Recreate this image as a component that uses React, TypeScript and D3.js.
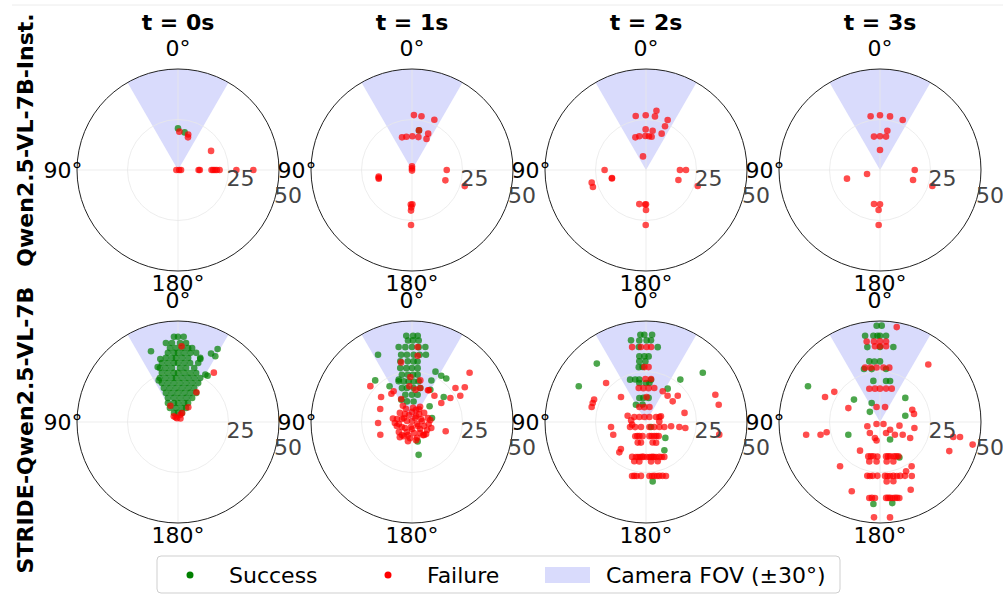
import React from 'react';
import * as d3 from 'd3';

// [angle in degrees (counter-clockwise from forward), distance]
const timeSteps = ['t = 0s', 't = 1s', 't = 2s', 't = 3s'];
const modelNames = ['Qwen2.5-VL-7B-Inst.', 'STRIDE-Qwen2.5-VL-7B'];
const angleTicks = [0, 90, 180];
const gridAngles = [0, 90, 180, 270];
const radialTicks = [25, 50];
const fovHalfAngle = 30;
const maxDistance = 50;

const baseT0Success = [[0, 20.6], [350, 18.9]];
const baseT0Failure = [[358, 19], [344, 18.3], [343, 16.9], [300, 18.9], [90, 0.8], [270, 0.6], [270, 1.5], [270, 10.2], [270, 10.8], [270, 16.6], [270, 17.4], [270, 18.3], [270, 19.2], [270, 20.6], [270, 28.9], [270, 37.3]];

const baseT1Success = [[350, 19.9]];
const baseT1Failure = [[358, 27.2], [350, 27], [336, 27.2], [350, 19.9], [336, 19.7], [335, 17], [17, 16.9], [9.6, 16.7], [359.4, 16.7], [349, 16.6], [0, 1.8], [0, 0.8], [180, 0.3], [101, 16.8], [103, 16.9], [104.7, 17], [270, 17.2], [252.8, 17.3], [253, 27.3], [180.6, 17], [178, 17.1], [179, 18.5], [178.6, 20.1], [179, 27.2]];

const baseT2Success: number[][] = [];
const baseT2Failure = [[350, 29.8], [10.8, 27.2], [0.3, 27.1], [350.5, 26.9], [336.6, 27], [336.5, 23.6], [336.7, 19.6], [0.5, 20.1], [350.4, 19.7], [18, 17], [11.2, 17], [1.1, 16.8], [350.4, 16.7], [355, 16.8], [12.4, 6.9], [90, 20.5], [103.2, 17.3], [104, 17.4], [103.1, 27.6], [107.8, 27.6], [270, 16.8], [270, 19.8], [252.8, 16.8], [252.8, 26.8], [168.9, 17.2], [180, 17], [178.6, 17.1], [180, 19.8], [179.7, 27.2]];

const baseT3Success: number[][] = [];
const baseT3Failure = [[9.9, 27], [0, 27.1], [349.4, 27], [335.6, 27.2], [349.4, 19.8], [10.2, 16.8], [0, 16.7], [349.8, 16.8], [0, 9.9], [270, 17.2], [253.1, 17.1], [253, 27.1], [104.7, 16.9], [107, 6.7], [170, 17.1], [180, 17], [178, 19.8], [178.6, 27.2]];

const strideT0Success = [
  [2.7, 42.2], [0, 42.2], [356.2, 42.3],
  [8.7, 39.6], [4.4, 39.2], [358.5, 39.1], [354.2, 39.3],
  [6.2, 36.8], [1.6, 36.6], [356.9, 36.7], [352.2, 36.9], [349.2, 37.3],
  [8.3, 34.6], [3.3, 34.3], [0, 34.2], [355, 34.3], [350, 34.7], [345.3, 35.4],
  [10.7, 32.3], [5.4, 31.8], [1.8, 31.7], [356.4, 31.8], [351, 32.1], [340.9, 33.6],
  [15.3, 30.3], [9.7, 29.6], [3.9, 29.3], [0, 29.2], [354.1, 29.4], [348.4, 29.8], [341.1, 30.9],
  [18.6, 28.2], [12.7, 27.4], [6.4, 26.9], [357.9, 26.7], [351.5, 27], [343.3, 27.9],
  [18.2, 25.6], [11.6, 24.8], [4.7, 24.4], [0, 24.3], [353, 24.5], [346.1, 25], [339.7, 25.9],
  [22.4, 23.6], [15.4, 22.6], [7.8, 22], [2.6, 21.8], [354.8, 21.9], [347.1, 22.4], [339.9, 23.2], [333.2, 24.4],
  [22.5, 20.9], [14.5, 19.9], [5.9, 19.4], [357, 19.3], [348.3, 19.7], [340.1, 20.5], [332.6, 21.7],
  [22.6, 18.2], [13.4, 17.3], [3.4, 16.8], [353.2, 16.9], [343.4, 17.5], [334.5, 18.6],
  [22.6, 15.6], [11.8, 14.7], [0, 14.4], [348.2, 14.7], [337.4, 15.6], [328, 17],
  [22.8, 12.9], [9.5, 12.1], [355.2, 11.9], [341.4, 12.6], [329.5, 13.8],
  [28, 10.6], [12, 9.6], [0, 9.4], [342.3, 9.9], [332, 10.6],
  [30.1, 8], [8.2, 7], [343.8, 7.2], [329.9, 8],
  [24, 4.9], [0, 4.5], [336, 4.9],
  [20.9, 37.5], [331.5, 41.1], [330.4, 37.4], [334.2, 37.6], [327.4, 27.2], [330, 27.1],
  [340.5, 33.1], [15.7, 32.4], [20.3, 29], [24.9, 22.7],
];
const strideT0Failure = [[357.3, 37.5], [324, 30.2], [328.2, 17.3], [25.1, 8.9], [325, 8.9], [336, 4.9], [341.6, 3.8], [27.6, 2.6], [324.8, 2.1], [15.5, 1.9], [36.9, 3.5]];

const strideT1Success = [
  [3.8, 42.8], [359.3, 42.7], [356.2, 42.8], [2.8, 40.4], [359.3, 40.4], [355.3, 40.5],
  [10.1, 37.7], [5.1, 37.2], [0, 37.1], [354.9, 37.2], [349.9, 37.7],
  [9.2, 33.7], [4.3, 33.4], [358.6, 33.3], [353.5, 33.5], [348.3, 34],
  [10.9, 30.6], [4, 30.1], [358.5, 30], [354.7, 30.1],
  [12.3, 27.3], [6, 26.8], [0, 26.7], [354, 26.8],
  [12.1, 23.9], [5.1, 23.5], [358.8, 23.4], [353.2, 23.6],
  [18.2, 21.2], [11.5, 20.5], [4.8, 20.2], [357.7, 20.1], [350.7, 20.4],
  [16.6, 17.5], [8.5, 17], [357.3, 16.8], [346.3, 17.3],
  [13.7, 13.9], [0, 13.5], [348.3, 13.8], [13.8, 10.5], [355.5, 10.2],
  [26.8, 37.3], [41.5, 27.5], [32.1, 20.9], [335, 27.5], [327.7, 27.1], [321.7, 27.4],
  [308.3, 20], [335, 22.7], [330.4, 18.4], [311.9, 11.7], [281.4, 10.1], [191.4, 16.6],
  [196.3, 10], [17.4, 22], [25.7, 12.2],
];
const strideT1Failure = [
  [310.5, 37.5], [303.4, 31.3], [308, 27.3], [298.5, 27.2], [302, 22.4], [303, 17.3],
  [254.6, 17.3], [319.5, 17.1], [332.1, 17.8], [355.7, 37.2], [355.1, 32.9], [10.4, 30],
  [2.1, 22.3], [348.7, 21], [346.3, 17.3], [333.3, 17.6], [49.3, 27.2], [51, 19.7],
  [36.1, 17.3], [30.9, 17.7], [67.8, 17], [79.7, 9.6], [91.7, 16.8], [111.9, 16.9],
  [25.3, 12.6], [353.9, 16.1], [4.2, 17.7],
  [355.9, 7], [331, 7.2], [306.9, 7.5], [284.4, 8.1], [263.1, 8.3], [242, 8.5], [220.2, 8.5],
  [197.8, 8.2], [172.9, 8.1], [150.3, 8.1], [127.6, 8.2], [104.9, 7.8], [78.7, 7.6], [53.1, 7.5],
  [24.8, 7.2], [0, 5], [317.4, 5.2], [275.7, 5], [228.8, 5.3], [190.3, 5.6], [153.4, 5.6],
  [116.6, 5.6], [73.3, 5.2], [41.2, 5.3], [323.1, 2.5], [248.2, 2.7], [168.7, 2.5], [78.7, 2.5],
  [0, 0.5], [192.5, 9.2], [168.1, 9.7], [276.3, 9.1], [93.4, 8.5], [331.9, 8.5], [29.4, 9.2],
  [229.4, 9.2], [141.3, 9.6], [252.5, 10],
  [326.3, 3.6], [23.2, 3.8], [288.4, 4.7], [236.3, 3.6], [180, 3.5], [130.6, 4.6], [63.4, 4.5],
  [251.6, 6.3], [98.7, 6.6], [162.9, 6.8], [216, 6.8], [341.6, 6.3], [222.7, 8.8], [142.4, 8.2],
];

const strideT2Success = [
  [3.7, 43.3], [1.1, 43.2], [356, 43.3], [10.4, 41.1], [4.7, 40.5], [359.6, 40.4], [356.5, 40.5],
  [5.5, 37.3], [351.1, 37.5], [5.8, 32.7], [1.4, 32.5], [357.7, 32.5], [6.3, 30.2], [0.6, 30],
  [7.5, 27.4], [3.6, 27.3], [20.6, 22.4], [14.2, 21.7], [8.9, 21.3], [353.2, 21.1],
  [9.7, 19.6], [0, 19.3], [355, 19.4], [15.5, 12.3], [6.2, 12], [353.8, 12], [30.2, 9.9], [11.2, 8.8],
  [40.1, 37.8], [62, 37.7], [310.9, 37.2], [321, 27], [327, 19.7], [225, 3.5], [230.6, 12.4],
  [213, 16.7], [186.4, 29.6],
];
const strideT2Failure = [
  [10.5, 37.7], [3.9, 37.2], [359.5, 37.1], [356.1, 37.2], [1.7, 27.2], [357.3, 27.2],
  [0.8, 21.3], [353.3, 21.4], [12.1, 17.2], [4.4, 16.8], [355.6, 16.8], [346.3, 17.3],
  [45, 17.5], [358.6, 12.4], [24, 8.1], [6.2, 7.4], [347, 7.6],
  [45.7, 27.6], [70.4, 28], [74.6, 27.9], [66.6, 28], [331.4, 17.3], [320.5, 16.8], [309.6, 20.4],
  [307.7, 16.7], [283.3, 19.6], [291.5, 36.9], [283.4, 37], [260.2, 36.8], [261.4, 16.7],
  [261.3, 19.7], [260.4, 12.6], [290.7, 7.9], [272.6, 6.6], [98.2, 17.5], [111.3, 17.4],
  [138.7, 20], [137.2, 18.3], [71.2, 9.6], [83.8, 7.4], [100.7, 7],
  [66.7, 6.3], [52.9, 4.1], [17.7, 2.6], [325.8, 3], [296.6, 5.6], [290.7, 7.1],
  [107.6, 8.3], [115.3, 5.9], [135, 3.5], [214.2, 3], [238.6, 4.8], [249.3, 7.1], [254.6, 9.4],
  [142.9, 8.8], [154.8, 7.7], [166.3, 7.2], [193.7, 7.2], [210.4, 8.1], [222, 9.4],
  [148.4, 8.2], [201.8, 7.5], [216.6, 8.7],
  [158.1, 11], [166.2, 10.5], [197.9, 10.7], [206.1, 11.4],
  [158.3, 18.6], [163.9, 18], [170.2, 17.6], [175.7, 17.3], [185.6, 17.4], [190.8, 17.6],
  [196.1, 18], [200.9, 18.5], [207.7, 19.5],
  [167, 17.8], [173.4, 17.4], [181, 17.3], [188.2, 17.5], [193, 17.8], [204.3, 19],
  [163.4, 20.3], [170.4, 19.8], [187.3, 19.7], [196.6, 20.3],
  [165.5, 27.6], [170.2, 27.1], [174.7, 26.8], [183.6, 26.8], [188.7, 27], [193.9, 27.5], [200.3, 28.5],
  [167.7, 27.3], [186.4, 26.9], [191.6, 27.3], [197.1, 27.9],
];

const strideT3Success = [
  [2, 47.7], [359, 47.7], [9.8, 43.3], [4.4, 42.8], [1.7, 42.7], [0, 42.7], [356, 42.8],
  [9.6, 37.6], [0, 37.1], [349.9, 37.7], [10, 30.5], [5.3, 30.1], [0, 30],
  [16.8, 27.4], [8.9, 26.5], [353.5, 26.4], [9.2, 20.6], [351.6, 20.5], [346.2, 20.9],
  [23.6, 10.3], [45, 7.1], [63.6, 39.8], [49.3, 17], [313.6, 17.3], [283.9, 12.9],
  [111.9, 16.9], [209.9, 10], [208.7, 20], [175.4, 40.7], [188.6, 40.6],
];
const strideT3Failure = [
  [350, 47.7], [9.4, 40.4], [4.3, 40], [0, 39.9], [355.7, 40], [3.8, 37.6], [0, 37.5], [355.4, 37.6],
  [15.4, 27.9], [9.7, 27.3], [3.6, 27], [356.4, 27], [350.3, 27.3],
  [17.8, 17.3], [8.6, 16.7], [0, 16.5], [349.7, 16.8], [340.6, 17.5], [12.9, 7.6], [341.3, 7.8],
  [120.5, 2], [239.5, 2], [108.4, 6.6], [137.2, 7.4], [162.4, 8.3], [209, 6.2], [232.8, 6.3],
  [229.6, 9.7], [169.4, 9.3],
  [161.2, 18], [169, 17.3], [175.6, 17.1], [190, 17.3], [196.4, 17.7], [202.1, 18.3], [208.2, 19.3],
  [165.2, 17.6], [193.2, 17.5], [205.2, 18.8],
  [164.8, 20.2], [175, 19.6], [189.6, 19.8], [198.7, 20.6],
  [166.7, 27.4], [172.3, 26.9], [177.2, 26.7], [185.3, 26.8], [190.6, 27.2], [197.3, 28], [204.9, 29.4], [210.5, 31],
  [169.4, 27.2], [187.9, 27], [193.9, 27.5], [200.5, 28.5],
  [186.4, 29.6], [192.7, 30.1],
  [172, 38], [176.2, 37.7], [184.6, 37.7], [187.6, 37.9], [191.1, 38.3], [194.3, 38.8],
  [173.9, 37.8], [186.1, 37.8], [189.4, 38.1], [192.7, 38.5],
  [176.4, 47.3], [186, 47.5],
  [65.5, 29.9], [56.6, 27.1], [66.3, 17.1], [99.8, 37.1], [102.1, 30.1], [100.9, 26.9],
  [145.1, 17.3], [137.9, 29.5], [157.8, 37], [204.4, 36.8], [215.6, 26.9], [207.9, 27.6],
  [320, 37.2], [290.9, 17.1], [283.4, 17.3], [260, 17.3], [259.4, 9.8], [240.6, 12.9],
  [242.1, 16.9], [258.5, 37], [259.4, 40.3], [256.3, 47.2], [247.2, 37.2],
];

const panels = [
  [[baseT0Success, baseT0Failure], [baseT1Success, baseT1Failure], [baseT2Success, baseT2Failure], [baseT3Success, baseT3Failure]],
  [[strideT0Success, strideT0Failure], [strideT1Success, strideT1Failure], [strideT2Success, strideT2Failure], [strideT3Success, strideT3Failure]],
];

const FONT = 'DejaVu Sans, sans-serif';
const R = 101;
const GREEN = '#008000';
const RED = '#ff0000';
const FOV_FILL = 'rgb(217, 219, 252)';

const colX = d3.scaleLinear().domain([0, 3]).range([178, 880]);
const rowY = d3.scaleLinear().domain([0, 1]).range([170, 422]);
const rScale = d3.scaleLinear().domain([0, maxDistance]).range([0, R]);
// polar angle (ccw, degrees) -> d3 radial angle (cw, radians)
const aScale = d3.scaleLinear().domain([0, 360]).range([0, -2 * Math.PI]);

const fovArc = d3.arc()({
  innerRadius: 0,
  outerRadius: rScale(maxDistance),
  startAngle: aScale(fovHalfAngle),
  endAngle: aScale(-fovHalfAngle),
} as any);

// label distance outside the rim, per tick angle
const labelPad: Record<number, number> = { 0: 21, 90: 14, 180: 12 };

function Panel({ row, col }: { row: number; col: number }) {
  const cx = colX(col);
  const cy = rowY(row);
  const [success, failure] = panels[row][col];
  const dot = (d: number[], i: number, fill: string) => {
    const [x, y] = d3.pointRadial(aScale(d[0]), rScale(d[1]));
    return <circle key={i} cx={x} cy={y} r={3.3} fill={fill} fillOpacity={0.7} />;
  };
  return (
    <g transform={`translate(${cx},${cy})`}>
      <path d={fovArc as string} fill={FOV_FILL} />
      {gridAngles.map((a) => {
        const [x, y] = d3.pointRadial(aScale(a), rScale(maxDistance));
        return <line key={a} x1={0} y1={0} x2={x} y2={y} stroke="#e8e8e8" strokeWidth={0.8} />;
      })}
      <circle r={rScale(radialTicks[0])} fill="none" stroke="#e8e8e8" strokeWidth={0.8} />
      {success.map((d, i) => dot(d, i, GREEN))}
      {failure.map((d, i) => dot(d, i, RED))}
      <circle r={rScale(maxDistance)} fill="none" stroke="#222" strokeWidth={1} />
      {angleTicks.map((a) => {
        const [x, y] = d3.pointRadial(aScale(a), R + labelPad[a]);
        return (
          <text key={a} x={x} y={y} dy="0.36em" textAnchor="middle" fontSize={22} fontFamily={FONT} fill="#000">
            {a}°
          </text>
        );
      })}
      {radialTicks.map((t) => {
        const rr = rScale(t);
        const ang = (20 * Math.PI) / 180;
        return (
          <text key={t} x={rr * Math.cos(ang) + 15} y={rr * Math.sin(ang) - 9} dy="0.36em" textAnchor="middle"
            fontSize={22} fontFamily={FONT} fill="#444">
            {t}
          </text>
        );
      })}
    </g>
  );
}

export default function App() {
  return (
    <svg width={1003} height={595} style={{ position: 'absolute', left: 0, top: 0, background: '#fff' }}>
      <line x1={12} x2={1003} y1={5} y2={5} stroke="#ececec" />
      {timeSteps.map((t, i) => (
        <text key={t} x={colX(i)} y={22} dy="0.36em" textAnchor="middle" fontSize={22} fontWeight="bold" fontFamily={FONT}>
          {t}
        </text>
      ))}
      {modelNames.map((m, i) => (
        <text key={m} transform={`translate(25,${i === 0 ? 140 : 430}) rotate(-90)`} dy="0.36em" textAnchor="middle"
          fontSize={22} fontWeight="bold" fontFamily={FONT}>
          {m}
        </text>
      ))}
      {[0, 1].map((row) => [0, 1, 2, 3].map((col) => <Panel key={`${row}-${col}`} row={row} col={col} />))}
      <g fontFamily={FONT} fontSize={22}>
        <rect x={157} y={556} width={683} height={37} rx={4} fill="#fff" stroke="#cfcfcf" />
        <circle cx={190} cy={575} r={3.5} fill={GREEN} />
        <text x={229} y={575} dy="0.36em">Success</text>
        <circle cx={388} cy={575} r={3.5} fill={RED} />
        <text x={427} y={575} dy="0.36em">Failure</text>
        <rect x={545} y={567} width={45} height={16} fill={FOV_FILL} />
        <text x={606} y={575} dy="0.36em">Camera FOV (±30°)</text>
      </g>
    </svg>
  );
}
